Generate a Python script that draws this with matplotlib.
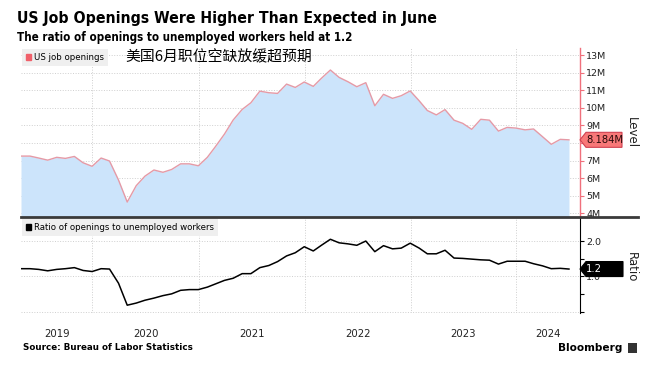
import matplotlib
matplotlib.use('Agg')
import matplotlib.pyplot as plt
import matplotlib.dates as mdates
import matplotlib.transforms as mtransforms
from matplotlib.patches import Polygon, Patch, Rectangle
from matplotlib.lines import Line2D
from datetime import datetime
import pandas as pd

# ---------------- data ----------------
dates = pd.date_range('2019-04-30', '2024-06-30', freq='ME')
openings = [7.26, 7.26, 7.15, 7.03, 7.19, 7.13, 7.24, 6.88, 6.68, 7.15,
            6.98, 5.90, 4.65, 5.58, 6.12, 6.47, 6.34, 6.50, 6.82, 6.82,
            6.71, 7.19, 7.80, 8.51, 9.31, 9.91, 10.29, 10.95, 10.86, 10.82,
            11.35, 11.16, 11.47, 11.22, 11.68, 12.15, 11.73, 11.48, 11.20, 11.43,
            10.12, 10.77, 10.54, 10.69, 10.96, 10.40, 9.85, 9.60, 9.90, 9.30,
            9.12, 8.78, 9.35, 9.30, 8.68, 8.89, 8.85, 8.75, 8.80, 8.36,
            7.93, 8.21, 8.184]
ratio = [1.22, 1.22, 1.20, 1.16, 1.20, 1.22, 1.25, 1.17, 1.14, 1.22,
         1.21, 0.81, 0.19, 0.25, 0.33, 0.39, 0.46, 0.51, 0.61, 0.63,
         0.63, 0.70, 0.79, 0.89, 0.95, 1.08, 1.08, 1.25, 1.31, 1.42,
         1.58, 1.67, 1.84, 1.72, 1.88, 2.05, 1.95, 1.92, 1.88, 2.00,
         1.70, 1.87, 1.78, 1.80, 1.94, 1.80, 1.64, 1.64, 1.74, 1.52,
         1.51, 1.49, 1.47, 1.46, 1.35, 1.43, 1.43, 1.43, 1.36, 1.30,
         1.22, 1.23, 1.21]
years = [2019, 2020, 2021, 2022, 2023, 2024]
level_ticks = [4, 5, 6, 7, 8, 9, 10, 11, 12, 13]
level_labels = ['4M', '5M', '6M', '7M', '', '9M', '10M', '11M', '12M', '13M']
ratio_major = [0, 1, 2]
ratio_major_labels = ['', '1.0', '2.0']
ratio_minor = [0.5, 1.5]
level_value_label = '8.184M'
ratio_value_label = '1.2'

title = 'US Job Openings Were Higher Than Expected in June'
subtitle = 'The ratio of openings to unemployed workers held at 1.2'
cn_note = '美国6月职位空缺放缓超预期'
source = 'Source: Bureau of Labor Statistics'

# ---------------- style ----------------
W, H = 650, 365
def fx(px): return px / W
def fy(py): return 1 - py / H

RED = '#f0707c'
LINE_RED = '#e59aa6'
FILL = '#cce4fb'
GRID = '#cfcfcf'

plt.rcParams['font.family'] = ['DejaVu Sans']

fig = plt.figure(figsize=(6.5, 3.65), dpi=100)
ax1 = fig.add_axes([fx(21), fy(217), fx(580) - fx(21), fy(48) - fy(217)])
ax2 = fig.add_axes([fx(21), fy(313), fx(580) - fx(21), fy(218) - fy(313)], sharex=ax1)

xlim = (datetime(2019, 4, 30), datetime(2024, 8, 7))
ylim1 = (3.8, 13.4)
ylim2 = (-0.03, 2.65)

# top panel
ax1.fill_between(dates, openings, ylim1[0], color=FILL, lw=0)
ax1.plot(dates, openings, color=LINE_RED, lw=1.0)
ax1.set_xlim(*xlim)
ax1.set_ylim(*ylim1)

# bottom panel
ax2.plot(dates, ratio, color='black', lw=1.1)
ax2.set_ylim(*ylim2)

year_bounds = [datetime(y, 1, 1) for y in years[1:]]
for ax in (ax1, ax2):
    ax.set_xticks(year_bounds)
    ax.tick_params(axis='x', length=0, labelbottom=False)
    for s in ('left', 'top', 'bottom'):
        ax.spines[s].set_visible(False)
    ax.yaxis.tick_right()
    ax.grid(True, which='major', color=GRID, ls=':', lw=0.7)
    ax.set_axisbelow(True)

ax1.set_yticks(level_ticks)
ax1.set_yticklabels(level_labels)
ax1.spines['right'].set_color(RED)
ax1.spines['right'].set_linewidth(1.0)
ax1.tick_params(axis='y', colors=RED, labelcolor='#222222', length=3, width=0.8,
                labelsize=6.8, pad=1.5)

ax2.set_yticks(ratio_major)
ax2.set_yticklabels(ratio_major_labels)
ax2.set_yticks(ratio_minor, minor=True)
ax2.spines['right'].set_color('black')
ax2.tick_params(axis='y', which='both', colors='black', labelcolor='#222222', length=3,
                width=0.8, labelsize=6.8, pad=1.5)

# legends
leg1 = ax1.legend(handles=[Patch(color='#f0606a', label='US job openings')], loc='upper left',
                  bbox_to_anchor=(0, 1.0), frameon=True, fancybox=False, fontsize=6.2,
                  handlelength=0.65, handleheight=0.65, handletextpad=0.3, borderpad=0.45,
                  borderaxespad=0.1)
leg1.get_frame().set_facecolor('#efefef')
leg1.get_frame().set_edgecolor('none')
leg1.get_frame().set_alpha(1)
leg2 = ax2.legend(handles=[Patch(color='black', label='Ratio of openings to unemployed workers')],
                  loc='upper left', bbox_to_anchor=(0, 1.0), frameon=True, fancybox=False,
                  fontsize=6.2, handlelength=0.65, handleheight=0.65, handletextpad=0.3,
                  borderpad=0.45, borderaxespad=0.1)
leg2.get_frame().set_facecolor('#efefef')
leg2.get_frame().set_edgecolor('none')
leg2.get_frame().set_alpha(1)

# chinese note
fig.text(fx(125), fy(57), cn_note, fontsize=10.7, family=['Noto Sans CJK SC', 'DejaVu Sans'],
         va='center', ha='left', color='black')

# year labels
trans = mtransforms.blended_transform_factory(ax2.transData, fig.transFigure)
bounds = [xlim[0]] + year_bounds + [xlim[1]]
for i, y in enumerate(years):
    a, b = mdates.date2num(bounds[i]), mdates.date2num(bounds[i + 1])
    fig.text((a + b) / 2, fy(334), str(y), transform=trans, ha='center', va='center',
             fontsize=7.3, color='#222222')

# separator
fig.add_artist(Line2D([fx(21), fx(638)], [fy(217), fy(217)], transform=fig.transFigure,
                      color='#3a3a3a', lw=2))

# value labels
ident = mtransforms.IdentityTransform()
def value_tag(ax, val, text, face, edge, tcolor, right_px):
    xd = ax.transAxes.transform((1, 0))[0]
    yd = ax.transData.transform((0, val))[1]
    h = 7.5
    xr = fx(right_px) * W
    poly = Polygon([(xd, yd), (xd + 6, yd + h), (xr, yd + h), (xr, yd - h), (xd + 6, yd - h)],
                   closed=True, facecolor=face, edgecolor=edge, lw=0.8, transform=ident)
    fig.add_artist(poly)
    fig.text(xd + 6, yd, text, transform=ident, ha='left', va='center', fontsize=7.2,
             color=tcolor)

value_tag(ax1, openings[-1], level_value_label, '#f87878', '#d04050', '#2a0a0a', 622)
value_tag(ax2, ratio[-1], ratio_value_label, 'black', 'black', 'white', 623)

fig.text(fx(631), fy(133), 'Level', rotation=270, ha='center', va='center', fontsize=8.5,
         color='#222222')
fig.text(fx(631), fy(267), 'Ratio', rotation=270, ha='center', va='center', fontsize=8.5,
         color='#222222')

# titles
fig.text(fx(17), fy(19), title, fontsize=11.3, fontweight='bold', ha='left', va='center',
         fontstretch='condensed')
fig.text(fx(17), fy(37), subtitle, fontsize=8.3, fontweight='bold', ha='left', va='center',
         fontstretch='condensed')
fig.text(fx(23), fy(348), source, fontsize=6.3, fontweight='bold', ha='left', va='center')
fig.text(fx(622), fy(348), 'Bloomberg', fontsize=7.6, fontweight='bold', ha='right',
         va='center')
fig.add_artist(Rectangle((fx(628), fy(353)), fx(9), 10 / H, transform=fig.transFigure,
                         facecolor='#333333', edgecolor='none'))

fig.savefig('out.png', dpi=100)
